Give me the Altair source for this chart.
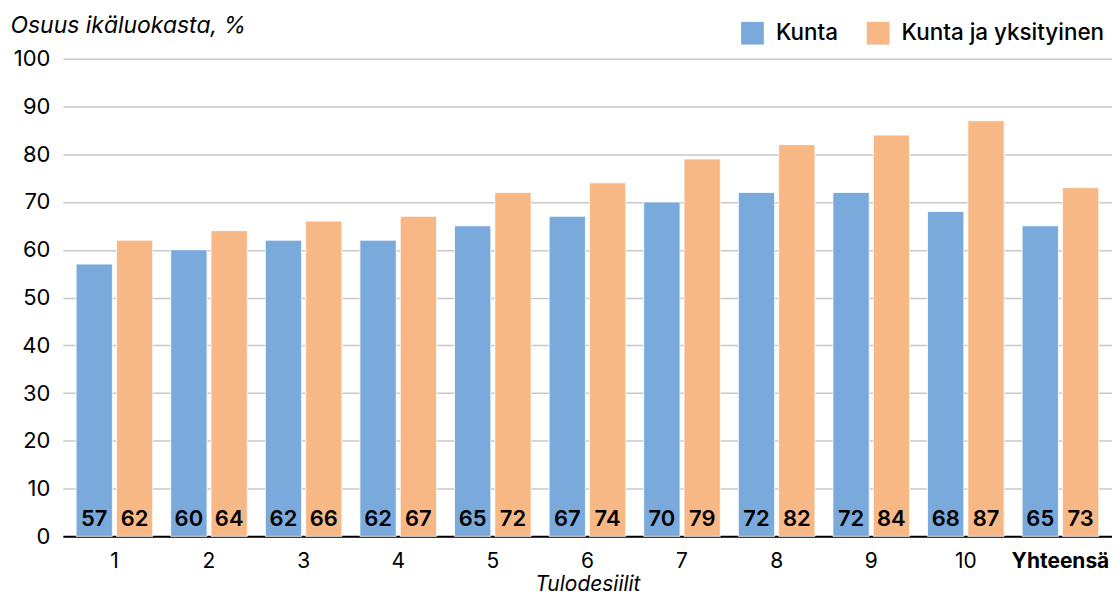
import altair as alt
import pandas as pd

categories = ["1", "2", "3", "4", "5", "6", "7", "8", "9", "10", "Yhteensä"]
kunta = [57, 60, 62, 62, 65, 67, 70, 72, 72, 68, 65]
kunta_yks = [62, 64, 66, 67, 72, 74, 79, 82, 84, 87, 73]
series = ["Kunta", "Kunta ja yksityinen"]
colors = ["#7aaadc", "#f7b886"]

rows = []
for c, a, b in zip(categories, kunta, kunta_yks):
    rows.append({"cat": c, "series": series[0], "value": a})
    rows.append({"cat": c, "series": series[1], "value": b})
df = pd.DataFrame(rows)

FONT = "Inter"

x = alt.X("cat:N", sort=categories,
          scale=alt.Scale(paddingInner=0.19, paddingOuter=0.14),
          axis=alt.Axis(title="Tulodesiilit", labelAngle=0, ticks=False,
                        domainColor="#000000", domainWidth=2,
                        labelFontSize=21, labelPadding=14, labelColor="#000000",
                        labelFontWeight={"condition": {"test": "datum.value == 'Yhteensä'", "value": "bold"}, "value": "normal"},
                        titleFontSize=21, titleFontStyle="italic", titleFontWeight="normal",
                        titlePadding=2, titleColor="#000000"))
xo = alt.XOffset("series:N", sort=series, scale=alt.Scale(paddingInner=0.1))

bars = alt.Chart(df).mark_bar(stroke="white", strokeWidth=0.8).encode(
    x=x,
    xOffset=xo,
    y=alt.Y("value:Q", scale=alt.Scale(domain=[0, 100]),
            axis=alt.Axis(values=list(range(0, 101, 10)), ticks=False, domain=False,
                          gridColor="#c8c8c8", gridWidth=1.5,
                          labelFontSize=22, labelPadding=13, labelColor="#000000",
                          title="Osuus ikäluokasta, %", titleAngle=0, titleAlign="left",
                          titleBaseline="alphabetic", titleX=-53, titleY=-26,
                          titleFontSize=23, titleFontStyle="italic", titleFontWeight="normal",
                          titleColor="#000000")),
    color=alt.Color("series:N", sort=series,
                    scale=alt.Scale(domain=series, range=colors),
                    legend=alt.Legend(title=None, orient="none", direction="horizontal",
                                      legendX=680, legendY=-37, symbolType="square",
                                      symbolSize=520, symbolStrokeWidth=0,
                                      labelFontSize=22.5, labelFontWeight=500,
                                      labelColor="#000000", labelOffset=12,
                                      labelLimit=400, columnPadding=28)),
)

labels = alt.Chart(df).mark_text(baseline="bottom", dy=-5, fontSize=22,
                                 fontWeight=600, color="#000000", font=FONT).encode(
    x=alt.X("cat:N", sort=categories),
    xOffset=alt.XOffset("series:N", sort=series),
    y=alt.datum(0),
    text=alt.Text("value:Q"),
)

chart = alt.layer(bars, labels).properties(
    width=1052, height=479,
    autosize=alt.AutoSizeParams(type="none"),
    padding={"left": 55, "top": 50, "right": 0, "bottom": 59},
).configure(font=FONT).configure_view(stroke=None)

chart.save("out.html", embed_options={"renderer": "svg", "actions": False})
